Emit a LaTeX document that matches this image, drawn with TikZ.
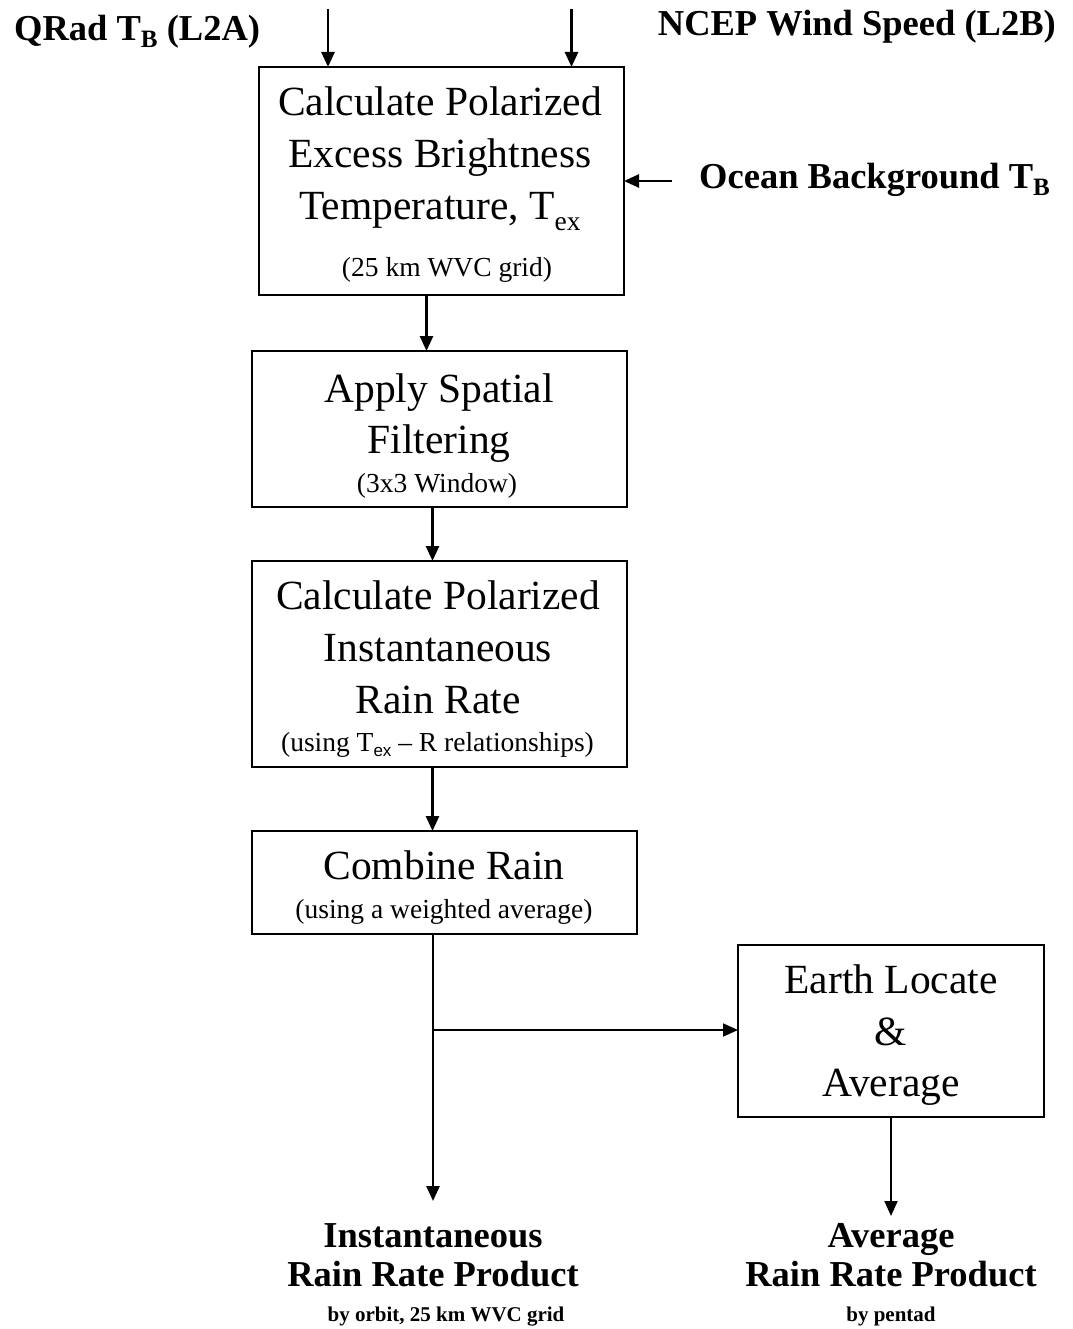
\documentclass[tikz,border=0pt]{standalone}
\usepackage{fontspec}
\setmainfont{Liberation Serif}
\setsansfont{Liberation Sans}
\usetikzlibrary{arrows.meta}
\newcommand{\lowr}[2]{\raisebox{-#1}{#2}}
\tikzset{
  box/.style={draw, line width=1.8pt, inner sep=0pt, outer sep=0pt},
  maintxt/.style={anchor=base, inner sep=0pt, font=\fontsize{41.5}{52}\selectfont},
  smalltxt/.style={anchor=base, inner sep=0pt, font=\fontsize{27.5}{32}\selectfont},
  lbl/.style={inner sep=0pt, font=\bfseries\fontsize{36.5}{44}\selectfont},
  prodsmall/.style={anchor=base, inner sep=0pt, font=\bfseries\fontsize{21}{26}\selectfont},
  arr/.style={line width=2.6pt, -{Triangle[length=15pt,width=13pt]}},
  thinarr/.style={line width=1.8pt, -{Triangle[length=15pt,width=13pt]}}
}
\begin{document}
\begin{tikzpicture}[x=1pt,y=-1pt]
\path[use as bounding box, fill=white] (0,0) rectangle (1072,1329);

% boxes
\node[box, minimum width=365pt, minimum height=228pt] (b1) at (441.5,181) {};
\node[box, minimum width=375pt, minimum height=156pt] (b2) at (439.5,429) {};
\node[box, minimum width=375pt, minimum height=206pt] (b3) at (439.5,664) {};
\node[box, minimum width=385pt, minimum height=103pt] (b4) at (444.5,882.5) {};
\node[box, minimum width=306pt, minimum height=172pt] (b5) at (891,1031) {};

% box texts
\node[maintxt] (b1a) at (440,116) {Calculate Polarized};
\node[maintxt] (b1b) at (440,168) {Excess Brightness};
\node[maintxt] (b1c) at (440,220) {Temperature, T\lowr{11pt}{\fontsize{27.5}{30}\selectfont ex}};
\node[smalltxt] (b1d) at (447,277) {(25 km WVC grid)};

\node[maintxt] (b2a) at (439,402) {Apply Spatial};
\node[maintxt] (b2b) at (439,453) {Filtering};
\node[smalltxt] (b2c) at (437,492) {(3x3 Window)};

\node[maintxt] (b3a) at (438,609) {Calculate Polarized};
\node[maintxt] (b3b) at (438,661) {Instantaneous};
\node[maintxt] (b3c) at (438,713) {Rain Rate};
\node[smalltxt] (b3d) at (437.5,751) {(using T\lowr{5pt}{\sffamily\fontsize{17}{20}\selectfont ex} \textendash\ R relationships)};

\node[maintxt] (b4a) at (444,879) {Combine Rain};
\node[smalltxt] (b4b) at (444,918) {(using a weighted average)};

\node[maintxt] (b5a) at (891,993) {Earth Locate};
\node[maintxt] (b5b) at (891,1045) {\&};
\node[maintxt] (b5c) at (891,1096) {Average};

% input labels
\node[lbl, anchor=base west] (qrad) at (14,41) {QRad T\lowr{7pt}{\fontsize{25}{28}\selectfont B} (L2A)};
\node[lbl, anchor=base east] (ncep) at (1056,36) {NCEP Wind Speed (L2B)};
\node[lbl, anchor=base west] (ocean) at (699,189) {Ocean Background T\lowr{7pt}{\fontsize{25}{28}\selectfont B}};

% output labels
\node[lbl, anchor=base] (p1a) at (433,1247) {Instantaneous};
\node[lbl, anchor=base] (p1b) at (433,1286) {Rain Rate Product};
\node[prodsmall] (p1c) at (446,1321) {by orbit, 25 km WVC grid};
\node[lbl, anchor=base] (p2a) at (891,1247) {Average};
\node[lbl, anchor=base] (p2b) at (891,1286) {Rain Rate Product};
\node[prodsmall] (p2c) at (891,1321) {by pentad};

% connector coordinates
\coordinate (inL) at (328,9);
\coordinate (inR) at (571.5,9);
\coordinate (inO) at (672,181);
\coordinate (split) at (433,1030);
\coordinate (out1) at (433,1201);
\coordinate (out2) at (891,1216);

% arrows
\draw[arr] (inL) -- (inL |- b1.north);
\draw[arr] (inR) -- (inR |- b1.north);
\draw[arr] (inO) -- (b1.east |- inO);
\draw[arr] (426.5,0 |- b1.south) -- (426.5,0 |- b2.north);
\draw[arr] (432.5,0 |- b2.south) -- (432.5,0 |- b3.north);
\draw[arr] (432.5,0 |- b3.south) -- (432.5,0 |- b4.north);
\draw[arr] (433,0 |- b4.south) -- (out1);
\draw[thinarr] (split) -- (b5.west |- split);
\draw[thinarr] (b5.south) -- (out2);
\end{tikzpicture}
\end{document}
